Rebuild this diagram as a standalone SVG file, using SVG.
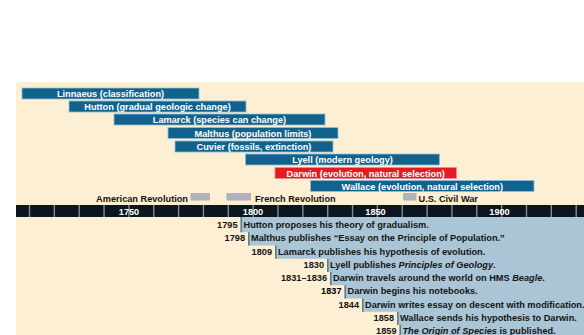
<svg xmlns="http://www.w3.org/2000/svg" width="584" height="335" viewBox="0 0 584 335">
<defs>
<style>
text{font-family:"Liberation Sans",Arial,sans-serif;font-weight:bold;font-size:9.2px;fill:#151515}
.bar{fill:#12628e;stroke:#8fc0da;stroke-width:0.8}
.red{fill:#e31c24;stroke:#f08a8e;stroke-width:0.8}
.bl{fill:#ffffff;text-anchor:middle}
.gray{fill:#b2b0ba}
.tick{stroke:#7f8c96;stroke-width:1.4}
.edge{stroke:#5f7d8f;stroke-width:1.6;fill:none}
.yr{text-anchor:end}
.it{font-style:italic}
</style>
</defs>
<rect x="0" y="0" width="584" height="335" fill="#ffffff"/>
<rect x="16" y="82" width="568" height="253" fill="#fdefd3"/>

<g id="people">
<g id="linnaeus"><rect class="bar" x="22" y="88" width="177" height="11"/><text class="bl" x="110.5" y="97">Linnaeus (classification)</text></g>
<g id="hutton"><rect class="bar" x="69" y="101" width="177" height="11"/><text class="bl" x="157.5" y="110">Hutton (gradual geologic change)</text></g>
<g id="lamarck"><rect class="bar" x="114" y="114" width="211" height="11"/><text class="bl" x="219.5" y="123">Lamarck (species can change)</text></g>
<g id="malthus"><rect class="bar" x="168" y="127.5" width="170" height="11"/><text class="bl" x="253" y="136.5">Malthus (population limits)</text></g>
<g id="cuvier"><rect class="bar" x="175" y="141" width="158" height="11"/><text class="bl" x="254" y="150">Cuvier (fossils, extinction)</text></g>
<g id="lyell"><rect class="bar" x="245.5" y="154" width="194" height="11"/><text class="bl" x="342.5" y="163">Lyell (modern geology)</text></g>
<g id="darwin"><rect class="red" x="275" y="167.5" width="181.5" height="11"/><text class="bl" x="365.7" y="176.5">Darwin (evolution, natural selection)</text></g>
<g id="wallace"><rect class="bar" x="310.5" y="180.5" width="223.5" height="11"/><text class="bl" x="422.3" y="189.5">Wallace (evolution, natural selection)</text></g>
</g>

<g id="history">
<g id="american-revolution"><rect class="gray" x="190.5" y="193" width="19.5" height="7.5"/><text x="188" y="201.5" text-anchor="end">American Revolution</text></g>
<g id="french-revolution"><rect class="gray" x="226.5" y="193" width="24.5" height="7.5"/><text x="255" y="201.5">French Revolution</text></g>
<g id="civil-war"><rect class="gray" x="403" y="193" width="13.5" height="7.5"/><text x="418.5" y="201.5">U.S. Civil War</text></g>
</g>

<g id="timeline">
<rect x="16" y="205" width="568" height="12" fill="#0c1620"/>
<g class="tick">
<line x1="29.5" y1="205" x2="29.5" y2="217"/><line x1="54.35" y1="205" x2="54.35" y2="217"/><line x1="79.2" y1="205" x2="79.2" y2="217"/><line x1="104.05" y1="205" x2="104.05" y2="217"/><line x1="128.9" y1="205" x2="128.9" y2="217"/><line x1="153.75" y1="205" x2="153.75" y2="217"/><line x1="178.6" y1="205" x2="178.6" y2="217"/><line x1="203.45" y1="205" x2="203.45" y2="217"/><line x1="228.3" y1="205" x2="228.3" y2="217"/><line x1="253.15" y1="205" x2="253.15" y2="217"/><line x1="278" y1="205" x2="278" y2="217"/><line x1="302.85" y1="205" x2="302.85" y2="217"/><line x1="327.7" y1="205" x2="327.7" y2="217"/><line x1="352.55" y1="205" x2="352.55" y2="217"/><line x1="377.4" y1="205" x2="377.4" y2="217"/><line x1="402.25" y1="205" x2="402.25" y2="217"/><line x1="427.1" y1="205" x2="427.1" y2="217"/><line x1="451.95" y1="205" x2="451.95" y2="217"/><line x1="476.8" y1="205" x2="476.8" y2="217"/><line x1="501.65" y1="205" x2="501.65" y2="217"/><line x1="526.5" y1="205" x2="526.5" y2="217"/><line x1="551.35" y1="205" x2="551.35" y2="217"/><line x1="576.2" y1="205" x2="576.2" y2="217"/>
</g>
<text class="bl" x="129" y="214.5">1750</text>
<text class="bl" x="253" y="214.5">1800</text>
<text class="bl" x="375.5" y="214.5">1850</text>
<text class="bl" x="499.5" y="214.5">1900</text>
</g>

<g id="events">
<path d="M240.5 217 H584 V335 H399.5 V325 H397 V311.75 H362 V298.5 H344.5 V285.25 H330 V272 H327 V258.75 H275 V245.5 H248 V232.25 H240.5 Z" fill="#a9c5d6"/>
<path class="edge" d="M241.3 217 V232.25 M248.8 232.25 V245.5 M275.8 245.5 V258.75 M327.8 258.75 V272 M330.8 272 V285.25 M345.3 285.25 V298.5 M362.8 298.5 V311.75 M397.8 311.75 V325 M400.3 325 V335"/>
<g id="e1795"><text class="yr" x="237.5" y="228">1795</text><text x="243.5" y="228">Hutton proposes his theory of gradualism.</text></g>
<g id="e1798"><text class="yr" x="245" y="241.25">1798</text><text x="251" y="241.25">Malthus publishes “Essay on the Principle of Population.”</text></g>
<g id="e1809"><text class="yr" x="272" y="254.5">1809</text><text x="278" y="254.5">Lamarck publishes his hypothesis of evolution.</text></g>
<g id="e1830"><text class="yr" x="324" y="267.75">1830</text><text x="330" y="267.75">Lyell publishes <tspan class="it">Principles of Geology</tspan>.</text></g>
<g id="e1831"><text class="yr" x="327" y="281">1831–1836</text><text x="333" y="281">Darwin travels around the world on HMS <tspan class="it">Beagle</tspan>.</text></g>
<g id="e1837"><text class="yr" x="341.5" y="294.25" style="fill:#000">1837</text><text x="347.5" y="294.25">Darwin begins his notebooks.</text></g>
<g id="e1844"><text class="yr" x="359" y="307.5">1844</text><text x="365" y="307.5">Darwin writes essay on descent with modification.</text></g>
<g id="e1858"><text class="yr" x="394" y="320.75">1858</text><text x="400" y="320.75">Wallace sends his hypothesis to Darwin.</text></g>
<g id="e1859"><text class="yr" x="396.5" y="334">1859</text><text x="402.5" y="334"><tspan class="it">The Origin of Species</tspan> is published.</text></g>
</g>
<g id="connectors"></g>
</svg>
